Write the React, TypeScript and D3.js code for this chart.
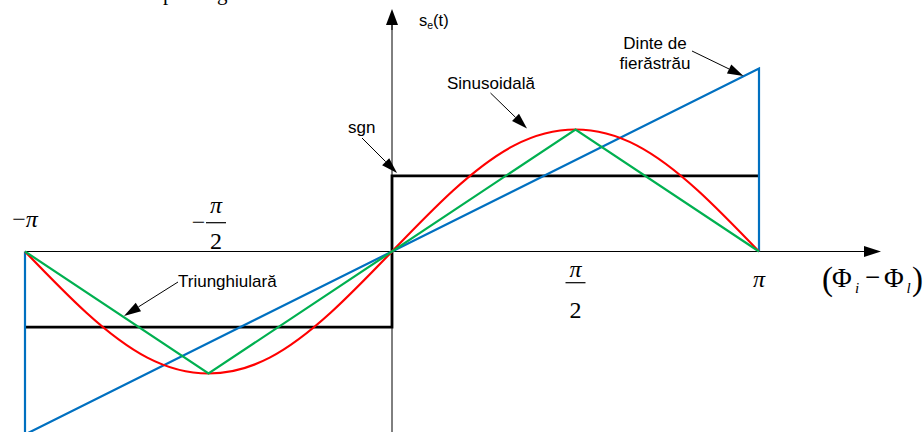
import React from "react";
import * as d3 from "d3";

const PI = Math.PI;

// phase difference (Φi - Φl), radians
const sineX = [-PI, (-5 * PI) / 6, (-4 * PI) / 6, (-3 * PI) / 6, (-2 * PI) / 6, -PI / 6, 0, PI / 6, (2 * PI) / 6, (3 * PI) / 6, (4 * PI) / 6, (5 * PI) / 6, PI];
const sineY = [0, -0.5, -0.87, -1, -0.87, -0.5, 0, 0.5, 0.87, 1, 0.87, 0.5, 0];
const triangleX = [-PI, -PI / 2, PI / 2, PI];
const triangleY = [0, -1, 1, 0];
const sawX = [-PI, -PI, PI, PI];
const sawY = [0, -1.5, 1.5, 0];
const sgnX = [-PI, 0, 0, PI];
const sgnY = [-0.62, -0.62, 0.62, 0.62];

const seriesNames = ["Sinusoidală", "Triunghiulară", "Dinte de fierăstrău", "sgn"];
const tickValues = [-PI, -PI / 2, PI / 2, PI];

const SANS = "'Liberation Sans', Arial, sans-serif";
const SERIF = "'Liberation Serif', 'Times New Roman', serif";

const zip = (xs: number[], ys: number[]) => xs.map((v, i) => [v, ys[i]] as [number, number]);

// filled arrow head at the end of a line
const Arrow = ({ x1, y1, x2, y2, len = 16, hw = 5 }: any) => {
  const a = Math.atan2(y2 - y1, x2 - x1);
  const bx = x2 - len * Math.cos(a);
  const by = y2 - len * Math.sin(a);
  const pts = [
    [x2, y2],
    [bx + hw * Math.sin(a), by - hw * Math.cos(a)],
    [bx - hw * Math.sin(a), by + hw * Math.cos(a)],
  ];
  return (
    <g>
      <line x1={x1} y1={y1} x2={bx} y2={by} stroke="#000" strokeWidth={1} />
      <polygon points={pts.map((p) => p.join(",")).join(" ")} fill="#000" />
    </g>
  );
};

export default function App() {
  const width = 924;
  const height = 432;

  const x = d3.scaleLinear().domain([-PI, PI]).range([25, 759]);
  const y = d3.scaleLinear().domain([-1, 1]).range([373.5, 129.5]);

  const line = d3.line<[number, number]>().x((d) => x(d[0])).y((d) => y(d[1]));
  const smooth = d3.line<[number, number]>().x((d) => x(d[0])).y((d) => y(d[1])).curve(d3.curveNatural);

  const y0 = y(0);
  const x0 = x(0);

  return (
    <svg width={width} height={height} style={{ position: "absolute", left: 0, top: 0, background: "#fff" }}>
      {/* cut-off text from the page above */}
      <text fontFamily={SERIF} fontSize={21} y={0}>
        <tspan x={163}>p</tspan>
        <tspan x={217}>g</tspan>
      </text>

      {/* axes */}
      <line x1={x(-PI)} y1={y0} x2={866} y2={y0} stroke="#000" strokeWidth={1} />
      <Arrow x1={860} y1={y0} x2={881} y2={y0} len={17} hw={5.5} />
      <line x1={x0} y1={height} x2={x0} y2={24} stroke="#000" strokeWidth={1} />
      <Arrow x1={x0} y1={30} x2={x0} y2={9} len={16} hw={6} />

      {/* curves */}
      <path d={line(zip(sgnX, sgnY)) || ""} fill="none" stroke="#000" strokeWidth={2.8} />
      <path d={line(zip(sawX, sawY)) || ""} fill="none" stroke="#0070c0" strokeWidth={2.2} />
      <path d={smooth(zip(sineX, sineY)) || ""} fill="none" stroke="#ff0000" strokeWidth={2.2} />
      <path d={line(zip(triangleX, triangleY)) || ""} fill="none" stroke="#00b050" strokeWidth={2.2} />

      {/* y axis label */}
      <text fontFamily={SANS} fontSize={16.5} x={419} y={26}>
        s<tspan fontSize={10.5} dy={3}>e</tspan>
        <tspan dy={-3}>(t)</tspan>
      </text>

      {/* annotations */}
      <g fontFamily={SANS} fontSize={17}>
        <text x={348} y={133}>{seriesNames[3]}</text>
        <text x={447} y={88.5}>{seriesNames[0]}</text>
        <text x={655} y={49} textAnchor="middle">Dinte de</text>
        <text x={655} y={68.5} textAnchor="middle">fierăstrău</text>
        <text x={178} y={287}>{seriesNames[1]}</text>
      </g>
      <Arrow x1={362} y1={138} x2={397} y2={173} />
      <Arrow x1={490.5} y1={93} x2={527} y2={128.5} />
      <Arrow x1={692} y1={51} x2={743.5} y2={76} />
      <Arrow x1={178} y1={282} x2={124} y2={316} len={17} />

      {/* tick labels */}
      <g fontFamily={SERIF} fontSize={24}>
        {/* -π */}
        <text x={x(tickValues[0])} y={227} textAnchor="middle">
          −<tspan fontStyle="italic">π</tspan>
        </text>
        {/* -π/2 */}
        <text x={x(tickValues[1]) - 10} y={229.5} textAnchor="middle">−</text>
        <text x={x(tickValues[1]) + 7.5} y={212.5} textAnchor="middle" fontStyle="italic">π</text>
        <line x1={x(tickValues[1]) - 2.5} x2={x(tickValues[1]) + 17.5} y1={222.7} y2={222.7} stroke="#000" strokeWidth={1.2} />
        <text x={x(tickValues[1]) + 7.5} y={248.5} textAnchor="middle">2</text>
        {/* π/2 */}
        <text x={x(tickValues[2])} y={277} textAnchor="middle" fontStyle="italic">π</text>
        <line x1={x(tickValues[2]) - 10} x2={x(tickValues[2]) + 10} y1={282.7} y2={282.7} stroke="#000" strokeWidth={1.2} />
        <text x={x(tickValues[2])} y={317.5} textAnchor="middle">2</text>
        {/* π */}
        <text x={x(tickValues[3])} y={287} textAnchor="middle" fontStyle="italic">π</text>
      </g>

      {/* x axis label (Φi − Φl) */}
      <g fontFamily={SERIF}>
        <text x={822} y={290} fontSize={33}>(</text>
        <text x={832} y={287} fontSize={27}>Φ</text>
        <text x={855} y={293} fontSize={15} fontStyle="italic">i</text>
        <text x={865} y={285.5} fontSize={27}>−</text>
        <text x={884} y={287} fontSize={27}>Φ</text>
        <text x={906.5} y={293} fontSize={15} fontStyle="italic">l</text>
        <text x={912} y={290} fontSize={33}>)</text>
      </g>
    </svg>
  );
}
